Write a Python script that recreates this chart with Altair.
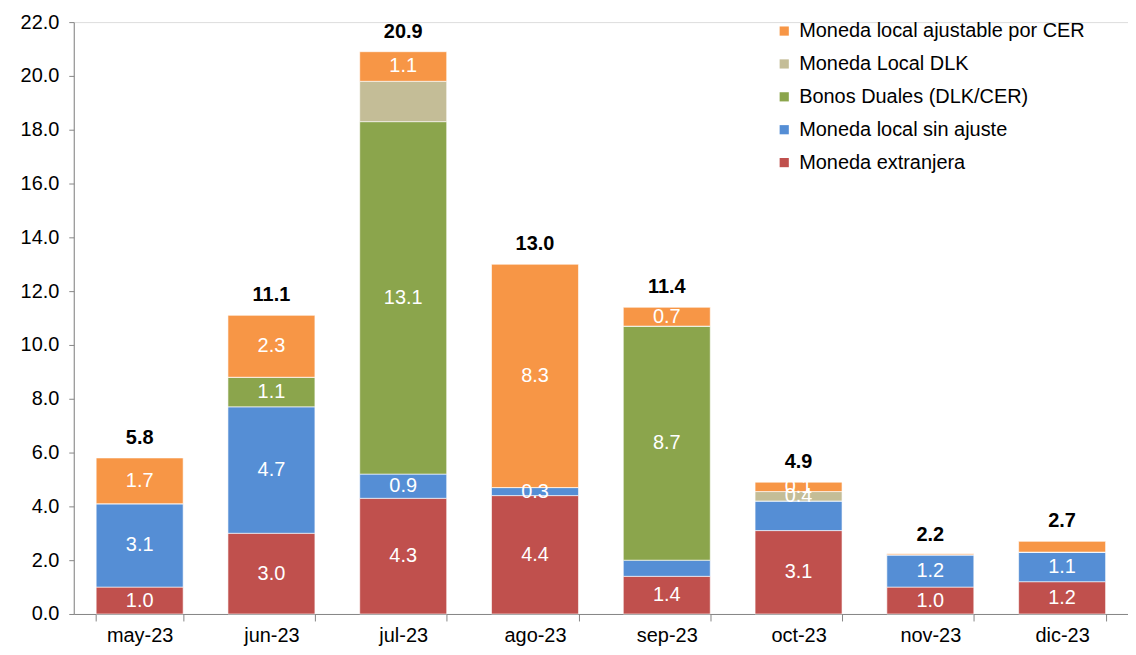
import altair as alt
import pandas as pd

months = ["may-23", "jun-23", "jul-23", "ago-23", "sep-23", "oct-23", "nov-23", "dic-23"]
series = ["Moneda extranjera", "Moneda local sin ajuste", "Bonos Duales (DLK/CER)",
          "Moneda Local DLK", "Moneda local ajustable por CER"]
colors = ["#C0504D", "#558ED5", "#8BA54C", "#C4BD97", "#F79646"]

moneda_extranjera = [1.0, 3.0, 4.3, 4.4, 1.4, 3.1, 1.0, 1.2]
moneda_sin_ajuste = [3.1, 4.7, 0.9, 0.3, 0.6, 1.1, 1.2, 1.1]
bonos_duales = [0.0, 1.1, 13.1, 0.0, 8.7, 0.0, 0.0, 0.0]
moneda_dlk = [0.0, 0.0, 1.5, 0.0, 0.0, 0.35, 0.0, 0.0]
moneda_cer = [1.7, 2.3, 1.1, 8.3, 0.7, 0.35, 0.04, 0.4]

lbl_extranjera = ["1.0", "3.0", "4.3", "4.4", "1.4", "3.1", "1.0", "1.2"]
lbl_sin_ajuste = ["3.1", "4.7", "0.9", "0.3", "", "", "1.2", "1.1"]
lbl_duales = ["", "1.1", "13.1", "", "8.7", "", "", ""]
lbl_dlk = ["", "", "", "", "", "0.4", "", ""]
lbl_cer = ["1.7", "2.3", "1.1", "8.3", "0.7", "0.1", "", ""]

totals = [5.8, 11.1, 20.9, 13.0, 11.4, 4.9, 2.2, 2.7]

values = [moneda_extranjera, moneda_sin_ajuste, bonos_duales, moneda_dlk, moneda_cer]
labels = [lbl_extranjera, lbl_sin_ajuste, lbl_duales, lbl_dlk, lbl_cer]

rows = []
for si, (s, vals, lbls) in enumerate(zip(series, values, labels)):
    for m, v, l in zip(months, vals, lbls):
        rows.append({"month": m, "series": s, "value": v, "label": l, "order": si})
df = pd.DataFrame(rows)
tot_df = pd.DataFrame({"month": months, "total": totals})

FONT = "Liberation Sans"
FS = 20

x_enc = alt.X("month:N", sort=months, title=None,
              scale=alt.Scale(paddingInner=0.34, paddingOuter=0.17),
              axis=alt.Axis(labelAngle=0, labelFontSize=FS, labelColor="#000000",
                            labelFont=FONT, tickBand="extent", tickSize=7,
                            tickColor="#868686", domainColor="#868686",
                            labelPadding=5))

base = alt.Chart(df).transform_stack(
    stack="value", groupby=["month"], sort=[alt.SortField("order", "ascending")],
    as_=["y0", "y1"]
).transform_calculate(mid="(datum.y0 + datum.y1) / 2")

bars = base.mark_bar(stroke="#FFFFFF", strokeWidth=0.6).encode(
    x=x_enc,
    y=alt.Y("y0:Q", title=None,
            scale=alt.Scale(domain=[0, 22], nice=False),
            axis=alt.Axis(values=list(range(0, 23, 2)), format=".1f", grid=False,
                          labelFontSize=FS, labelColor="#000000", labelFont=FONT,
                          tickSize=5, tickColor="#868686", domainColor="#868686",
                          labelPadding=10)),
    y2="y1:Q",
    color=alt.Color("series:N",
                    scale=alt.Scale(domain=list(reversed(series)), range=list(reversed(colors))),
                    legend=alt.Legend(title=None, orient="none", legendX=703, legendY=-1,
                                      labelFontSize=FS, labelFont=FONT, labelColor="#000000",
                                      labelLimit=0,
                                      symbolType="square", symbolSize=85,
                                      symbolStrokeWidth=0, rowPadding=13,
                                      labelOffset=5, padding=0)),
)

seg_text = base.mark_text(color="#FFFFFF", fontSize=FS, font=FONT, baseline="middle").encode(
    x=alt.X("month:N", sort=months),
    y="mid:Q",
    text="label:N",
)

tot_text = alt.Chart(tot_df).mark_text(color="#000000", fontSize=FS, font=FONT,
                                       fontWeight="bold", baseline="bottom", dy=-10).encode(
    x=alt.X("month:N", sort=months),
    y="total:Q",
    text=alt.Text("total:Q", format=".1f"),
)

chart = alt.layer(bars, seg_text, tot_text).properties(
    width=1058, height=594,
    padding={"left": 12, "top": 3, "right": 0, "bottom": 5},
).configure_view(stroke=None).configure(background="#FFFFFF")

chart.save("out.html", embed_options={"renderer": "svg", "actions": False})
